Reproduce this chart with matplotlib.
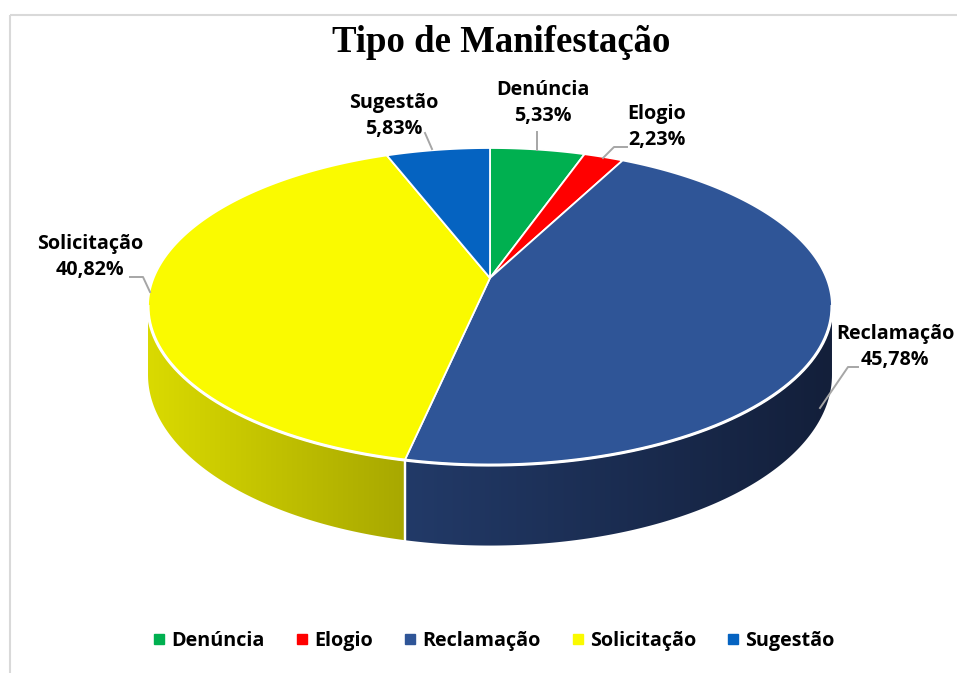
import numpy as np
import matplotlib
matplotlib.use("Agg")
import matplotlib.pyplot as plt
from matplotlib.patches import Polygon, Rectangle
from matplotlib.lines import Line2D
from matplotlib.colors import to_rgb

# ---------------- data ----------------
categories = ["Denúncia", "Elogio", "Reclamação", "Solicitação", "Sugestão"]
values = [5.33, 2.23, 45.78, 40.82, 5.83]
pct_labels = ["5,33%", "2,23%", "45,78%", "40,82%", "5,83%"]
title = "Tipo de Manifestação"

# ---------------- style ----------------
top_colors = ["#00B050", "#FF0000", "#2F5597", "#FAFA00", "#0563C1"]
wall_left = ["#008a3e", "#cc0000", "#223A68", "#DADA00", "#044a90"]
wall_right = ["#006a30", "#990000", "#131F3A", "#A8A800", "#033670"]

W, H = 957, 673
fig = plt.figure(figsize=(W / 100, H / 100), dpi=100)
ax = fig.add_axes([0, 0, 1, 1])
ax.set_xlim(0, W)
ax.set_ylim(H, 0)
ax.axis("off")

# frame
ax.add_patch(Rectangle((9.5, 14.5), 1000, 700, fill=False, ec="#D9D9D9", lw=1.5, zorder=0))

# projection parameters (perspective tilted disc)
cx, cy = 490.0, 278.0
f, g, k = 336.4, 153.4, 0.18
thick = 66.0


def proj(theta_deg, drop=0.0):
    t = np.radians(theta_deg)
    u = np.sin(t)
    v = -np.cos(t)
    w = 1 - k * v
    return cx + f * u / w, cy + (g * v + drop) / w


fr = np.array(values) / sum(values)
bounds = np.concatenate([[0], np.cumsum(fr) * 360])

vis_a = np.degrees(np.arccos(-k))
vis_b = 360 - vis_a

# side walls (gradient images clipped to wall outline)
for i in range(len(values)):
    a0, a1 = max(bounds[i], vis_a), min(bounds[i + 1], vis_b)
    if a1 <= a0:
        continue
    ts = np.linspace(a0, a1, 200)
    top = [proj(t) for t in ts]
    bot = [proj(t, thick) for t in ts[::-1]]
    poly = Polygon(top + bot, closed=True, fc="none", ec="none", zorder=2)
    ax.add_patch(poly)
    pts = np.array(top + bot)
    xmin, xmax = pts[:, 0].min(), pts[:, 0].max()
    ymin, ymax = pts[:, 1].min(), pts[:, 1].max()
    s = np.linspace(0, 1, 256)
    cL, cR = np.array(to_rgb(wall_left[i])), np.array(to_rgb(wall_right[i]))
    grad = (cL[None, :] * (1 - s[:, None]) + cR[None, :] * s[:, None])[None, :, :]
    im = ax.imshow(grad, extent=(xmin, xmax, ymax + 1, ymin - 1), aspect="auto",
                   interpolation="bilinear", zorder=2)
    im.set_clip_path(poly)
    for b in (bounds[i], bounds[i + 1]):
        if vis_a < b < vis_b:
            x0, y0 = proj(b)
            x1, y1 = proj(b, thick)
            ax.plot([x0, x1], [y0, y1], color="white", lw=1.6, zorder=3)

ax.set_xlim(0, W)
ax.set_ylim(H, 0)

# top faces
for i in range(len(values)):
    ts = np.linspace(bounds[i], bounds[i + 1], 200)
    pts = [(cx, cy)] + [proj(t) for t in ts]
    ax.add_patch(Polygon(pts, closed=True, fc=top_colors[i], ec="white", lw=1.3,
                         joinstyle="round", zorder=4))

# white rim between top face and wall
ts = np.linspace(vis_a, vis_b, 300)
rim = np.array([proj(t) for t in ts])
ax.plot(rim[:, 0], rim[:, 1], color="white", lw=2.2, zorder=5)

# labels
lab_font = dict(family=["Open Sans", "DejaVu Sans"], weight="bold", size=14.2)
label_pos = [(543, 103), (657, 127), (895, 347), (90, 257), (394, 116)]
leaders = [
    [(537, 132), (537, 150)],
    [(627, 147), (614, 147), (603, 158)],
    [(858, 367), (848, 367), (820, 408)],
    [(130, 277), (143, 277), (150, 292)],
    [(425, 133), (432, 149)],
]
for i in range(len(values)):
    x, y = label_pos[i]
    ax.text(x, y, f"{categories[i]}\n{pct_labels[i]}", ha="center", va="center",
            linespacing=1.4, color="black", zorder=7, clip_on=False, **lab_font)
    lx, ly = zip(*leaders[i])
    ax.plot(lx, ly, color="#A6A6A6", lw=1.4, zorder=6)

# title
ax.text(501, 43, title, ha="center", va="center", fontsize=26.5, weight="bold",
        family=["Liberation Serif", "DejaVu Serif"], color="black")

# legend
handles = [Line2D([], [], marker="s", ls="none", markersize=7, color=c) for c in top_colors]
leg = ax.legend(handles, categories, loc="center", bbox_to_anchor=(494 / W, 1 - 641 / H),
                ncol=5, frameon=False, handlelength=0.6, handletextpad=0.3,
                columnspacing=1.6, prop=dict(family=["Open Sans", "DejaVu Sans"], weight="bold", size=14.2))

fig.savefig("out.png", dpi=100)
